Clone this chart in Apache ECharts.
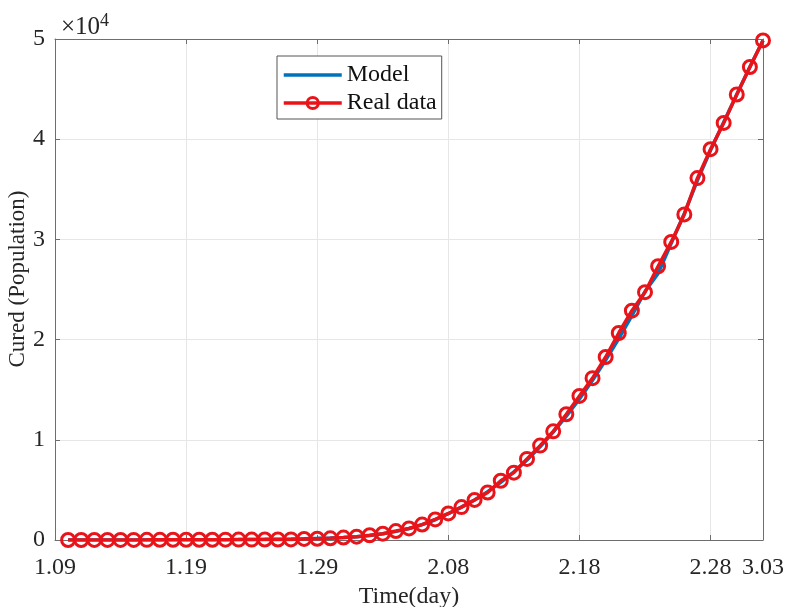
<!DOCTYPE html>
<html>
<head>
<meta charset="utf-8">
<script src="https://cdn.jsdelivr.net/npm/echarts@6/dist/echarts.min.js"></script>
<style>html,body{margin:0;padding:0;background:#fff}#c{width:788px;height:607px}</style>
</head>
<body>
<div id="c"></div>
<script>
// Dates (day after 1.09) of each observation, Jan 10 .. Mar 3 (2020)
const dates = ["1.10","1.11","1.12","1.13","1.14","1.15","1.16","1.17","1.18","1.19","1.20","1.21","1.22","1.23","1.24","1.25","1.26","1.27","1.28","1.29","1.30","1.31",
"2.01","2.02","2.03","2.04","2.05","2.06","2.07","2.08","2.09","2.10","2.11","2.12","2.13","2.14","2.15","2.16","2.17","2.18","2.19","2.20","2.21","2.22","2.23","2.24","2.25","2.26","2.27","2.28","2.29",
"3.01","3.02","3.03"];
const realData = [2,3,6,7,7,12,15,19,25,25,25,28,34,38,39,49,51,60,103,124,171,243,
328,475,632,892,1153,1540,2050,2649,3281,3996,4740,5911,6723,8096,9419,10844,12552,14376,16155,18264,20659,22888,24734,27323,29745,32495,36117,39002,41625,
44462,47204,49856];
const modelData = [0,1,2,3,4,6,8,11,14,18,23,29,36,45,56,70,87,108,134,166,205,253,
330,450,620,860,1150,1530,2020,2620,3280,4000,4820,5760,6800,7980,9300,10760,12350,14080,15950,17960,20100,22380,24800,26600,29600,32600,35900,38900,41700,
44450,47200,49850];
const tickDays = [0,10,20,30,40,50,54];
const tickLabels = ["1.09","1.19","1.29","2.08","2.18","2.28","3.03"];
const yTicks = [0,10000,20000,30000,40000,50000];

const FONT = "Liberation Serif";
const TXT = "#262626";
const AX = "#6e6e6e";
const RED = "#e8141a";
const BLUE = "#0072BD";
const real = dates.map((d,i)=>[i+1, realData[i]]);
const model = dates.map((d,i)=>[i+1, modelData[i]]);

const chart = echarts.init(document.getElementById('c'), null, {renderer:'canvas'});
const axisLine = {show:true, onZero:false, lineStyle:{color:AX, width:1}};
const tick = {show:true, inside:true, length:5, lineStyle:{color:AX}};
chart.setOption({
  animation:false,
  backgroundColor:'#fff',
  grid:{left:55, right:25, top:39, bottom:67, containLabel:false, outerBoundsMode:'none'},
  title:{
    text:'×10{s|4}', left:56, top:7,
    textStyle:{fontFamily:FONT, fontSize:25, color:TXT, fontWeight:'normal',
      rich:{s:{fontFamily:FONT, fontSize:18, color:TXT, verticalAlign:'top', padding:[0,0,12,0]}}}
  },
  graphic:[{
    type:'text', x:18, y:279, rotation:Math.PI/2,
    style:{text:'Cured (Population)', fontFamily:FONT, fontSize:23, fill:TXT, align:'center', verticalAlign:'middle'}
  }],
  legend:{
    orient:'vertical', left:277, top:56, padding:[7,5,4,5],
    backgroundColor:'#fff', borderColor:'#555', borderWidth:1,
    itemWidth:58, itemHeight:14, itemGap:4,
    textStyle:{fontFamily:FONT, fontSize:24, color:'#111', lineHeight:24},
    data:[
      {name:'Model', itemStyle:{opacity:0, borderWidth:0}, lineStyle:{color:BLUE, width:3.5}},
      {name:'Real data', itemStyle:{color:'rgba(255,255,255,0)', borderColor:RED, borderWidth:3}, lineStyle:{color:RED, width:3.5}}
    ]
  },
  xAxis:[{
    type:'value', min:0, max:54, interval:10, position:'bottom',
    name:'Time(day)', nameLocation:'middle', nameGap:42,
    nameTextStyle:{fontFamily:FONT, fontSize:24, color:TXT},
    axisLine:axisLine, axisTick:tick,
    axisLabel:{fontFamily:FONT, fontSize:24, color:TXT, margin:16, showMaxLabel:true, showMinLabel:true,
      formatter:v=>{const k=tickDays.indexOf(Math.round(v)); return k>=0?tickLabels[k]:'';}},
    splitLine:{show:true, lineStyle:{color:'#e6e6e6', width:1}}
  },{
    type:'value', min:0, max:54, interval:10, position:'top',
    axisLine:axisLine, axisTick:tick, axisLabel:{show:false}, splitLine:{show:false}
  }],
  yAxis:[{
    type:'value', min:0, max:50000, interval:10000, position:'left',
    axisLine:axisLine, axisTick:tick,
    axisLabel:{fontFamily:FONT, fontSize:24, color:TXT, margin:10,
      formatter:v=> yTicks.indexOf(v)>=0 ? String(v/10000) : ''},
    splitLine:{show:true, lineStyle:{color:'#e6e6e6', width:1}}
  },{
    type:'value', min:0, max:50000, interval:10000, position:'right',
    axisLine:axisLine, axisTick:tick, axisLabel:{show:false}, splitLine:{show:false}
  }],
  series:[{
    name:'Model', type:'line', data:model, symbol:'circle', showSymbol:false,
    lineStyle:{color:BLUE, width:3.5}, itemStyle:{color:BLUE}, z:2
  },{
    name:'Real data', type:'line', data:real, symbol:'circle', symbolSize:13,
    lineStyle:{color:RED, width:3.5},
    itemStyle:{color:'rgba(255,255,255,0)', borderColor:RED, borderWidth:3}, z:3
  }]
});
</script>
</body>
</html>
